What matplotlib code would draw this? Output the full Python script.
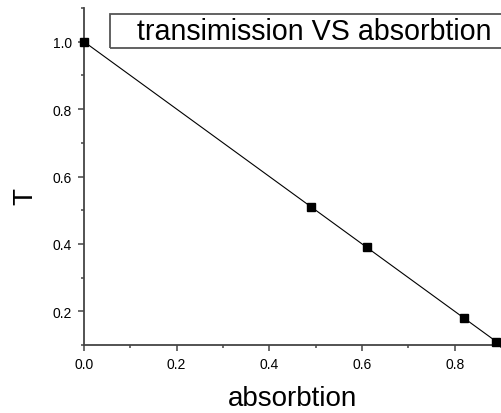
import matplotlib
matplotlib.use("Agg")
import matplotlib.pyplot as plt
from matplotlib.patches import Rectangle
from matplotlib.ticker import MultipleLocator

absorption = [0.0, 0.49, 0.61, 0.82, 0.89]
transmission = [1.0, 0.51, 0.39, 0.18, 0.11]
title_text = "transimission VS absorbtion"
x_label = "absorbtion"
y_label = "T"

plt.rcParams['font.family'] = ['Liberation Sans', 'DejaVu Sans']

fig = plt.figure(figsize=(5.01, 4.14), dpi=100)
ax = fig.add_axes([84/501, 1 - 346/414, 1 - 84/501, (346 - 9)/414])

ax.plot(absorption, transmission, color='black', lw=0.8, marker='s',
        markersize=5.5, markerfacecolor='black', markeredgecolor='black',
        clip_on=False, zorder=3)

ax.set_xlim(0, 0.9)
ax.set_ylim(0.1, 1.1)
ax.xaxis.set_minor_locator(MultipleLocator(0.1))
ax.yaxis.set_minor_locator(MultipleLocator(0.1))
ax.set_xticks([0.0, 0.2, 0.4, 0.6, 0.8])
ax.set_yticks([0.2, 0.4, 0.6, 0.8, 1.0])

for s in ['top', 'right']:
    ax.spines[s].set_visible(False)
for s in ['left', 'bottom']:
    ax.spines[s].set_color('#444444')
    ax.spines[s].set_linewidth(1.3)

ax.tick_params(which='major', direction='out', length=4, width=1.1,
               color='#444444', labelsize=10, pad=4.5)
ax.tick_params(which='minor', direction='out', length=2.5, width=1.1,
               color='#444444')

ax.set_xlabel(x_label, fontsize=20)
ax.xaxis.set_label_coords(0.5, -(406 - 346) / 337)
ax.xaxis.label.set_va('baseline')
ax.set_ylabel(y_label, fontsize=20)
ax.yaxis.set_label_coords(-0.1415, 0.4436)
ax.yaxis.label.set_va('center')

rect = Rectangle((110/501, 1 - 49/414), 400/501, 34/414, transform=fig.transFigure,
                 fill=False, edgecolor='#555555', linewidth=1.3, clip_on=False)
fig.patches.append(rect)
fig.text(137/501, 1 - 32/414, title_text, fontsize=20.6, ha='left', va='center')

fig.savefig("out.png", dpi=100)
